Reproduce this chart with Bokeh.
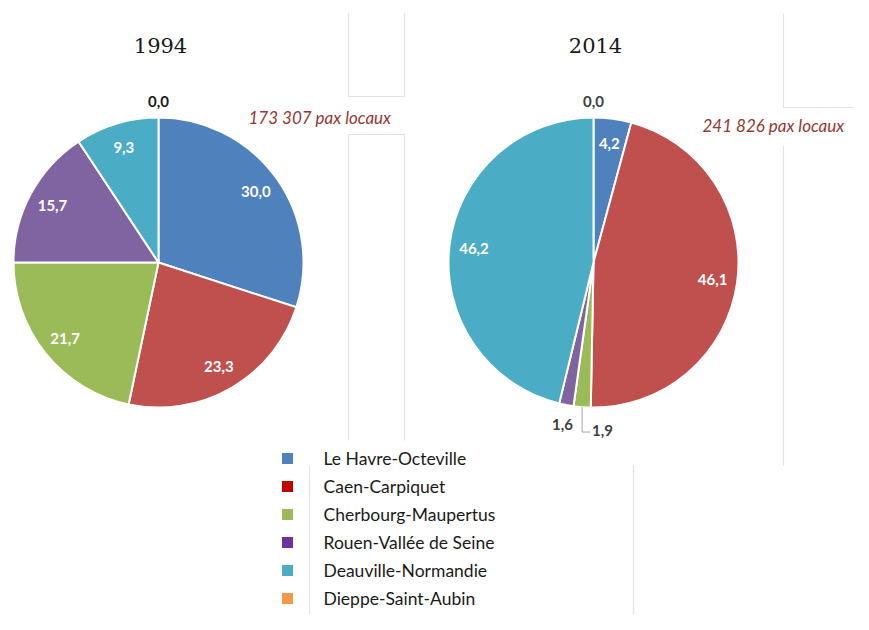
import numpy as np
from bokeh.plotting import figure
from bokeh.models import Range1d
from bokeh.core.properties import value
from bokeh.embed import file_html
from bokeh.resources import INLINE

# ---------------- data ----------------
airports = ["Le Havre-Octeville", "Caen-Carpiquet", "Cherbourg-Maupertus",
            "Rouen-Vallée de Seine", "Deauville-Normandie", "Dieppe-Saint-Aubin"]
share_1994 = [30.0, 23.3, 21.7, 15.7, 9.3, 0.0]
share_2014 = [4.2, 46.1, 1.9, 1.6, 46.2, 0.0]
years = ["1994", "2014"]
totals = ["173 307 pax locaux", "241 826 pax locaux"]
slice_colors = ["#4F81BD", "#C0504D", "#9BBB59", "#8064A2", "#4BACC6", "#F79646"]
legend_colors = ["#4F81BD", "#C00000", "#9BBB59", "#7030A0", "#4BACC6", "#F79646"]

# ---------------- layout (image pixel space, y flipped) ----------------
H = 630
def Y(y):
    return H - y

p = figure(width=853, height=614, output_backend="svg", toolbar_location=None,
           x_range=Range1d(0, 853), y_range=Range1d(Y(614), Y(0)),
           min_border=0)
p.axis.visible = False
p.grid.visible = False
p.outline_line_color = None
p.background_fill_color = "white"
p.border_fill_color = "white"

# faint frame lines of the original overlapping chart boxes
frame_col = "#E3E3E3"
frame_lines = [
    ([348, 348, 404, 404], [13, 96, 96, 13]),
    ([348, 348], [134, 440]), ([404, 404], [134, 440]), ([348, 404], [134, 134]),
    ([783, 783, 869], [13, 107, 107]),
    ([783, 783], [145, 465]),
    ([309, 309], [465, 630]), ([633, 633], [465, 630]),
]
for xs, ys in frame_lines:
    p.line(xs, [Y(v) for v in ys], line_color=frame_col, line_width=1.2)

centers = [(158, 262), (593, 262)]
R = 145
zero_colors = ["#1a1a1a", "#404040"]
lbl_font = value("Lato")

def fmt(v):
    return f"{v:.1f}".replace(".", ",")

for k, shares in enumerate([share_1994, share_2014]):
    cx, cy = centers[k]
    vals = np.array(shares, dtype=float)
    frac = vals / vals.sum()
    cum = np.concatenate([[0], np.cumsum(frac)])
    start = np.pi / 2 - cum[:-1] * 2 * np.pi
    end = np.pi / 2 - cum[1:] * 2 * np.pi
    nz = vals > 0
    p.wedge(x=cx, y=Y(cy), radius=R, start_angle=start[nz], end_angle=end[nz],
            direction="clock",
            fill_color=[c for c, m in zip(slice_colors, nz) if m],
            line_color="white", line_width=2)

    mid = (cum[:-1] + cum[1:]) / 2 * 2 * np.pi  # clockwise from top
    in_x, in_y, in_t = [], [], []
    out_x, out_y, out_t = [], [], []
    for i, v in enumerate(vals):
        th = mid[i]
        if v == 0:
            out_x.append(cx + (R + 16) * np.sin(th))
            out_y.append(Y(cy) + (R + 16) * np.cos(th))
            out_t.append(fmt(v))
        elif v < 3:
            if abs(np.sin(th)) < 0.12:
                ex = cx + R * np.sin(th)
                ey = Y(cy) + R * np.cos(th)
                p.line([ex, ex, ex + 8], [ey, ey - 25, ey - 25],
                       line_color="#A6A6A6", line_width=1)
                p.text(x=[ex + 10], y=[ey - 23], text=[fmt(v)],
                       text_font=lbl_font, text_font_style="bold",
                       text_font_size="15px", text_color="#404040",
                       text_align="left", text_baseline="middle")
            else:
                out_x.append(cx + 1.14 * R * np.sin(th))
                out_y.append(Y(cy) + 1.14 * R * np.cos(th))
                out_t.append(fmt(v))
        else:
            in_x.append(cx + 0.83 * R * np.sin(th))
            in_y.append(Y(cy) + 0.83 * R * np.cos(th))
            in_t.append(fmt(v))
    p.text(x=in_x, y=in_y, text=in_t, text_font=lbl_font, text_font_style="bold",
           text_font_size="15px", text_color="white",
           text_align="center", text_baseline="middle")
    p.text(x=out_x, y=out_y, text=out_t, text_font=lbl_font, text_font_style="bold",
           text_font_size="15px", text_color=zero_colors[k],
           text_align="center", text_baseline="middle")

# titles
p.text(x=[c[0] + 2 for c in centers], y=[Y(45)] * 2, text=years,
       text_font=value("DejaVu Serif"), text_font_size="21px",
       text_color="#1a1a1a", text_align="center", text_baseline="middle")

# totals
p.text(x=[248, 702], y=[Y(117), Y(125)], text=totals,
       text_font=value("Lato"), text_font_style="italic", text_font_size="17px",
       text_color="#953735", text_align="left", text_baseline="middle")

# legend
leg_y = [Y(458 + 28 * i) for i in range(len(airports))]
p.rect(x=[287] * len(airports), y=leg_y, width=11, height=11,
       fill_color=legend_colors, line_color=None)
p.text(x=[323] * len(airports), y=leg_y, text=airports,
       text_font=value("Lato"), text_font_size="17.5px", text_color="#1a1a1a",
       text_align="left", text_baseline="middle")

open("out.html", "w").write(file_html(p, INLINE))
